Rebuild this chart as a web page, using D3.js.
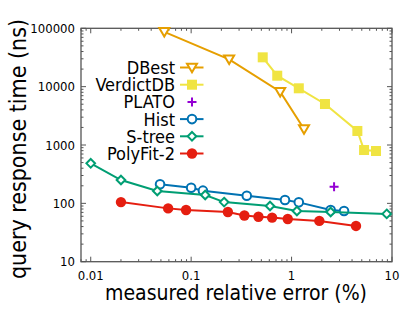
<!DOCTYPE html>
<html lang="en">
<head>
<meta charset="UTF-8">
<title>query response time vs measured relative error</title>
<script src="https://d3js.org/d3.v7.min.js"></script>
<style>
    body { margin: 0; background: #fff; }
    svg text { font-family: "DejaVu Sans Condensed", "DejaVu Sans", sans-serif; font-stretch: condensed; fill: #000; }
</style>
</head>
<body>
<svg id="chart" width="415" height="312"></svg>
<script>
// values (x = measured relative error %, y = response time ns)
const dbestX = [0.054, 0.239, 0.77, 1.33];
const dbestY = [87000, 29400, 8200, 1880];
const verdictX = [0.516, 0.72, 1.18, 2.15, 4.52, 5.27, 6.93];
const verdictY = [31800, 15400, 9370, 5040, 1740, 820, 789];
const platoX = [2.65];
const platoY = [193];
const histX = [0.049, 0.1, 0.131, 0.358, 0.86, 1.18, 2.45, 3.33];
const histY = [212, 185, 165, 135, 114, 104, 77, 74];
const streeX = [0.01, 0.02, 0.046, 0.138, 0.213, 0.61, 1.13, 2.45, 8.86];
const streeY = [485, 251, 163, 139, 105, 90, 74, 71, 66];
const polyX = [0.02, 0.059, 0.089, 0.232, 0.339, 0.468, 0.64, 0.916, 1.89, 4.38];
const polyY = [105, 82, 77, 71, 62, 59, 57, 54, 50, 41];

const xTicks = [0.01, 0.1, 1, 10];
const yTicks = [10, 100, 1000, 10000, 100000];

const series = [
    {name: "DBest", xs: dbestX, ys: dbestY, color: "#E69F00", marker: "tri", line: true},
    {name: "VerdictDB", xs: verdictX, ys: verdictY, color: "#F0E442", marker: "square", line: true},
    {name: "PLATO", xs: platoX, ys: platoY, color: "#9400D3", marker: "plus", line: false},
    {name: "Hist", xs: histX, ys: histY, color: "#0072B2", marker: "circle", line: true},
    {name: "S-tree", xs: streeX, ys: streeY, color: "#009E73", marker: "diamond", line: true},
    {name: "PolyFit-2", xs: polyX, ys: polyY, color: "#E51E10", marker: "dot", line: true}
];

const L = 81, R = 392, T = 28.3, B = 261.7;
const svg = d3.select("#chart");

const x = d3.scaleLog().domain([0.008, 10]).range([L, R]);
const y = d3.scaleLog().domain([10, 100000]).range([B, T]);

const axisColor = "#555";

// minor + major ticks, mirrored on all four sides
function minorTicks(scale) {
    const [a, b] = scale.domain();
    const out = [];
    for (let e = Math.floor(Math.log10(a)); e <= Math.ceil(Math.log10(b)); e++) {
        for (let m = 1; m < 10; m++) {
            const v = m * Math.pow(10, e);
            if (v >= a && v <= b) out.push({v: v, major: m === 1});
        }
    }
    return out;
}

const tickG = svg.append("g").attr("stroke", axisColor).attr("stroke-width", 1);
minorTicks(x).forEach(t => {
    const len = t.major ? 5 : 2.5;
    const px = x(t.v);
    tickG.append("line").attr("x1", px).attr("x2", px).attr("y1", B).attr("y2", B - len);
    tickG.append("line").attr("x1", px).attr("x2", px).attr("y1", T).attr("y2", T + len);
});
minorTicks(y).forEach(t => {
    const len = t.major ? 5 : 2.5;
    const py = y(t.v);
    tickG.append("line").attr("x1", L).attr("x2", L + len).attr("y1", py).attr("y2", py);
    tickG.append("line").attr("x1", R).attr("x2", R - len).attr("y1", py).attr("y2", py);
});

svg.append("rect")
    .attr("x", L).attr("y", T).attr("width", R - L).attr("height", B - T)
    .attr("fill", "none").attr("stroke", axisColor).attr("stroke-width", 1.3);

// tick labels
svg.append("g").selectAll("text").data(xTicks).enter().append("text")
    .attr("x", d => x(d)).attr("y", 280)
    .attr("text-anchor", "middle").attr("font-size", 13)
    .text(d => d);
svg.append("g").selectAll("text").data(yTicks).enter().append("text")
    .attr("x", 75).attr("y", d => y(d) + 4.5)
    .attr("text-anchor", "end").attr("font-size", 13)
    .text(d => d);

// axis titles
svg.append("text")
    .attr("x", 236).attr("y", 300)
    .attr("text-anchor", "middle").attr("font-size", 21)
    .text("measured relative error (%)");
svg.append("text")
    .attr("transform", "translate(26,149) rotate(-90)")
    .attr("text-anchor", "middle").attr("font-size", 23)
    .text("query response time (ns)");

function drawMarker(g, kind, cx, cy, color) {
    if (kind === "tri") {
        const s = 5;
        g.append("path")
            .attr("d", `M${cx - s},${cy - s * 0.75} L${cx + s},${cy - s * 0.75} L${cx},${cy + s * 0.95} Z`)
            .attr("fill", "#fff").attr("stroke", color).attr("stroke-width", 2);
    } else if (kind === "square") {
        g.append("rect").attr("x", cx - 5).attr("y", cy - 5).attr("width", 10).attr("height", 10)
            .attr("fill", color);
    } else if (kind === "plus") {
        g.append("path").attr("d", `M${cx - 4.5},${cy} H${cx + 4.5} M${cx},${cy - 4.5} V${cy + 4.5}`)
            .attr("stroke", color).attr("stroke-width", 2);
    } else if (kind === "circle") {
        g.append("circle").attr("cx", cx).attr("cy", cy).attr("r", 4.3)
            .attr("fill", "#fff").attr("stroke", color).attr("stroke-width", 2);
    } else if (kind === "diamond") {
        const s = 4.3;
        g.append("path").attr("d", `M${cx},${cy - s} L${cx + s},${cy} L${cx},${cy + s} L${cx - s},${cy} Z`)
            .attr("fill", "#fff").attr("stroke", color).attr("stroke-width", 2);
    } else if (kind === "dot") {
        g.append("circle").attr("cx", cx).attr("cy", cy).attr("r", 5.2).attr("fill", color);
    }
}

const line = d3.line().x(d => x(d[0])).y(d => y(d[1]));

series.forEach(s => {
    const g = svg.append("g");
    const pts = s.xs.map((v, i) => [v, s.ys[i]]);
    if (s.line) {
        g.append("path").datum(pts).attr("d", line)
            .attr("fill", "none").attr("stroke", s.color).attr("stroke-width", 2);
    }
    pts.forEach(p => drawMarker(g, s.marker, x(p[0]), y(p[1]), s.color));
});

// legend
const legY0 = 67.5, legDy = 17.2;
series.forEach((s, i) => {
    const ly = legY0 + i * legDy;
    const g = svg.append("g");
    g.append("text").attr("x", 175).attr("y", ly + 6.5)
        .attr("text-anchor", "end").attr("font-size", 18).text(s.name);
    if (s.line) {
        g.append("line").attr("x1", 180).attr("x2", 203.5).attr("y1", ly).attr("y2", ly)
            .attr("stroke", s.color).attr("stroke-width", 2);
    }
    drawMarker(g, s.marker, 192, ly, s.color);
});
</script>
</body>
</html>
